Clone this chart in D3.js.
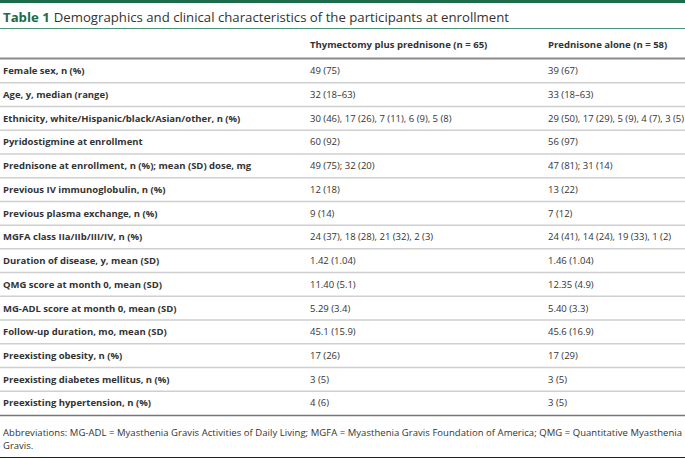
<!DOCTYPE html>
<html>
<head>
<meta charset="utf-8">
<script src="https://cdn.jsdelivr.net/npm/d3@7"></script>
<style>
  body { margin: 0; background: #fff; }
  svg { display: block; font-family: 'Open Sans', sans-serif; }
</style>
</head>
<body>
<div id="chart"></div>
<script>
const tableTitle = 'Demographics and clinical characteristics of the participants at enrollment'
const columnHeaders = ['', 'Thymectomy plus prednisone (n = 65)', 'Prednisone alone (n = 58)']

const characteristics = [
  'Female sex, n (%)',
  'Age, y, median (range)',
  'Ethnicity, white/Hispanic/black/Asian/other, n (%)',
  'Pyridostigmine at enrollment',
  'Prednisone at enrollment, n (%); mean (SD) dose, mg',
  'Previous IV immunoglobulin, n (%)',
  'Previous plasma exchange, n (%)',
  'MGFA class IIa/IIb/III/IV, n (%)',
  'Duration of disease, y, mean (SD)',
  'QMG score at month 0, mean (SD)',
  'MG-ADL score at month 0, mean (SD)',
  'Follow-up duration, mo, mean (SD)',
  'Preexisting obesity, n (%)',
  'Preexisting diabetes mellitus, n (%)',
  'Preexisting hypertension, n (%)'
]

const thymectomyValues = [
  '49 (75)', '32 (18–63)', '30 (46), 17 (26), 7 (11), 6 (9), 5 (8)', '60 (92)',
  '49 (75); 32 (20)', '12 (18)', '9 (14)', '24 (37), 18 (28), 21 (32), 2 (3)',
  '1.42 (1.04)', '11.40 (5.1)', '5.29 (3.4)', '45.1 (15.9)', '17 (26)', '3 (5)', '4 (6)'
]

const prednisoneValues = [
  '39 (67)', '33 (18–63)', '29 (50), 17 (29), 5 (9), 4 (7), 3 (5)', '56 (97)',
  '47 (81); 31 (14)', '13 (22)', '7 (12)', '24 (41), 14 (24), 19 (33), 1 (2)',
  '1.46 (1.04)', '12.35 (4.9)', '5.40 (3.3)', '45.6 (16.9)', '17 (29)', '3 (5)', '3 (5)'
]

const footnote = [
  'Abbreviations: MG-ADL = Myasthenia Gravis Activities of Daily Living; MGFA = Myasthenia Gravis Foundation of America; QMG = Quantitative Myasthenia',
  'Gravis.'
]

const width = 685
const height = 459
const green = '#1c6b4b'
const textColor = '#333'

const rows = characteristics.map((label, i) => [label, thymectomyValues[i], prednisoneValues[i]])

const svg = d3.select('#chart').append('svg')
  .attr('width', width)
  .attr('height', height)

// column positions
const x = d3.scaleOrdinal()
  .domain([0, 1, 2])
  .range([3, 310, 548])

// row bands
const y = d3.scaleBand()
  .domain(d3.range(rows.length))
  .range([59, 415])

// title block
svg.append('rect')
  .attr('x', 0).attr('y', 0)
  .attr('width', width).attr('height', 3)
  .attr('fill', green)

const title = svg.append('text')
  .attr('x', 3)
  .attr('y', 22)
  .style('font-size', '13.2px')
  .attr('fill', textColor)
title.append('tspan')
  .style('font-weight', 700)
  .attr('fill', green)
  .text('Table 1')
title.append('tspan')
  .attr('dx', 4)
  .text(tableTitle)

svg.append('line')
  .attr('x1', 0).attr('x2', width)
  .attr('y1', 28.5).attr('y2', 28.5)
  .attr('stroke', '#4d9477')
  .attr('stroke-width', 1)

// header
svg.append('g')
  .selectAll('text')
  .data(columnHeaders)
  .join('text')
    .attr('x', (d, i) => x(i))
    .attr('y', 48)
    .style('font-size', '9.55px')
    .style('font-weight', 700)
    .attr('fill', textColor)
    .text(d => d)

svg.append('line')
  .attr('x1', 0).attr('x2', width)
  .attr('y1', 58.5).attr('y2', 58.5)
  .attr('stroke', '#8a8a8a')
  .attr('stroke-width', 2)

// body rows
const rowG = svg.append('g')
  .selectAll('g')
  .data(rows)
  .join('g')
    .attr('transform', (d, i) => `translate(0,${y(i)})`)

rowG.filter((d, i) => i > 0)
  .append('line')
    .attr('x1', 0).attr('x2', width)
    .attr('y1', 0).attr('y2', 0)
    .attr('stroke', '#cfcfcf')
    .attr('stroke-width', 1.5)

rowG.selectAll('text')
  .data(d => d)
  .join('text')
    .attr('x', (d, i) => x(i))
    .attr('y', y.bandwidth() / 2)
    .attr('dy', '0.35em')
    .style('font-size', '9.5px')
    .style('font-weight', (d, i) => i === 0 ? 700 : 400)
    .attr('fill', textColor)
    .text(d => d)

svg.append('line')
  .attr('x1', 0).attr('x2', width)
  .attr('y1', 415.5).attr('y2', 415.5)
  .attr('stroke', '#777')
  .attr('stroke-width', 1.5)

// footnote, first line fitted to the table width
svg.append('g')
  .selectAll('text')
  .data(footnote)
  .join('text')
    .attr('x', 3)
    .attr('y', (d, i) => 436 + i * 13)
    .style('font-size', '9.5px')
    .attr('fill', textColor)
    .attr('textLength', (d, i) => i === 0 ? 679 : null)
    .attr('lengthAdjust', 'spacing')
    .text(d => d)

svg.append('line')
  .attr('x1', 0).attr('x2', width)
  .attr('y1', 457.5).attr('y2', 457.5)
  .attr('stroke', '#222')
  .attr('stroke-width', 1)
</script>
</body>
</html>
